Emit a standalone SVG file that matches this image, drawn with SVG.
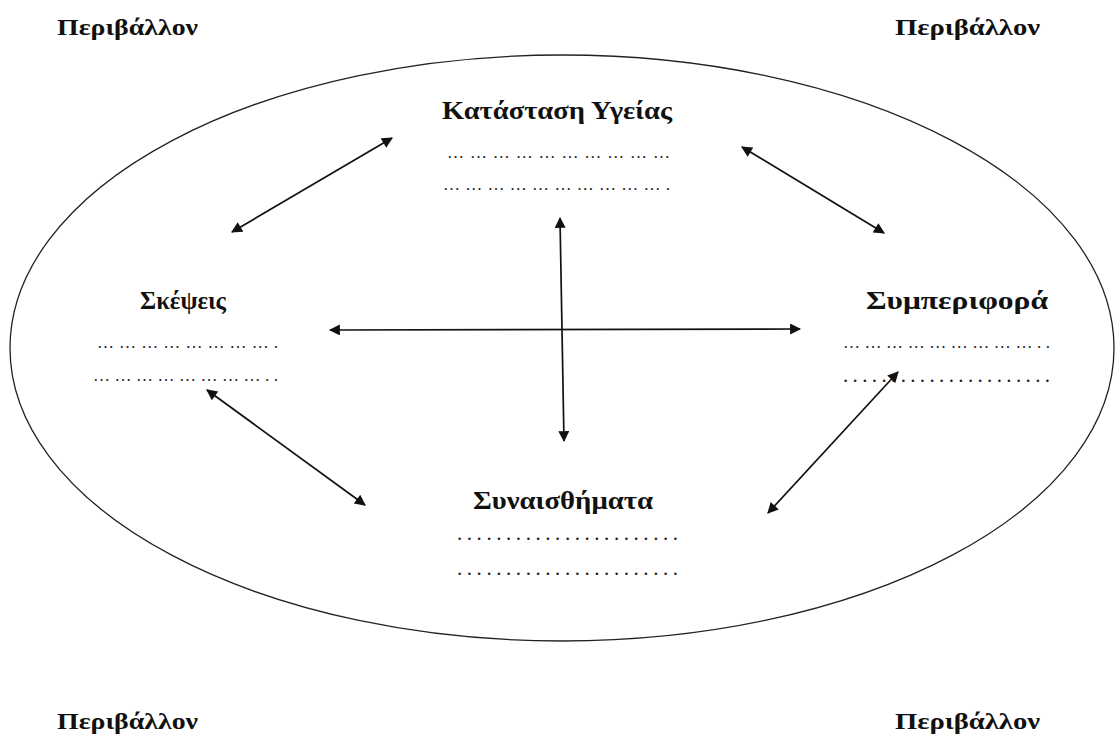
<svg xmlns="http://www.w3.org/2000/svg" width="1118" height="747" viewBox="0 0 1118 747">
  <style>
    .lbl { font-family: "Liberation Serif", "Times New Roman", serif; font-weight: bold; font-size: 26px; fill: #111; }
    .env { font-family: "Liberation Serif", "Times New Roman", serif; font-weight: bold; font-size: 24px; fill: #111; }
    .dots { font-family: "Liberation Serif", "Times New Roman", serif; font-size: 21px; fill: #222; }
    .ell { font-family: "Liberation Serif", "Times New Roman", serif; font-size: 17px; fill: #222; }
    .conn { stroke: #111; stroke-width: 1.7; fill: none; marker-start: url(#head); marker-end: url(#head); }
  </style>
  <defs>
    <marker id="head" viewBox="0 0 10 10" refX="9" refY="5" markerWidth="13" markerHeight="11" orient="auto-start-reverse" markerUnits="userSpaceOnUse">
      <path d="M0,0 L10,5 L0,10 Z" fill="#111"/>
    </marker>
  </defs>
  <rect width="1118" height="747" fill="#fff"/>

  <!-- environment labels in the four corners -->
  <g id="env-tl"><text class="env" x="57" y="35" textLength="141" lengthAdjust="spacingAndGlyphs">Περιβάλλον</text></g>
  <g id="env-tr"><text class="env" x="895" y="35" textLength="145" lengthAdjust="spacingAndGlyphs">Περιβάλλον</text></g>
  <g id="env-bl"><text class="env" x="57" y="729" textLength="141" lengthAdjust="spacingAndGlyphs">Περιβάλλον</text></g>
  <g id="env-br"><text class="env" x="895" y="729" textLength="145" lengthAdjust="spacingAndGlyphs">Περιβάλλον</text></g>

  <!-- person boundary -->
  <g id="boundary">
    <ellipse cx="562" cy="348" rx="552" ry="293" fill="none" stroke="#222" stroke-width="1.3"/>
  </g>

  <g id="node-health">
    <text class="lbl" x="442" y="119" textLength="230" lengthAdjust="spacingAndGlyphs">Κατάσταση Υγείας</text>
    <text class="ell" x="447" y="158" textLength="223" lengthAdjust="spacing">&#8230;&#8230;&#8230;&#8230;&#8230;&#8230;&#8230;&#8230;&#8230;&#8230;</text>
    <text class="ell" x="443" y="190" textLength="227" lengthAdjust="spacing">&#8230;&#8230;&#8230;&#8230;&#8230;&#8230;&#8230;&#8230;&#8230;&#8230;.</text>
  </g>

  <g id="node-thoughts">
    <text class="lbl" x="140" y="309" textLength="86" lengthAdjust="spacingAndGlyphs">Σκέψεις</text>
    <text class="ell" x="97" y="348" textLength="181" lengthAdjust="spacing">&#8230;&#8230;&#8230;&#8230;&#8230;&#8230;&#8230;&#8230;.</text>
    <text class="ell" x="93" y="381" textLength="185" lengthAdjust="spacing">&#8230;&#8230;&#8230;&#8230;&#8230;&#8230;&#8230;&#8230;..</text>
  </g>

  <g id="node-behaviour">
    <text class="lbl" x="866" y="309" textLength="182" lengthAdjust="spacingAndGlyphs">Συμπεριφορά</text>
    <text class="ell" x="843" y="348" textLength="207" lengthAdjust="spacing">&#8230;&#8230;&#8230;&#8230;&#8230;&#8230;&#8230;&#8230;&#8230;..</text>
    <text class="dots" x="843" y="382" textLength="207" lengthAdjust="spacing">......................</text>
  </g>

  <g id="node-emotions">
    <text class="lbl" x="473" y="509" textLength="180" lengthAdjust="spacingAndGlyphs">Συναισθήματα</text>
    <text class="dots" x="457" y="540" textLength="221" lengthAdjust="spacing">.......................</text>
    <text class="dots" x="457" y="575" textLength="221" lengthAdjust="spacing">.......................</text>
  </g>

  <g id="connectors">
    <line class="conn" x1="232" y1="232" x2="392" y2="138"/>
    <line class="conn" x1="742" y1="147" x2="884" y2="233"/>
    <line class="conn" x1="330" y1="330" x2="800" y2="329"/>
    <line class="conn" x1="560" y1="218" x2="564" y2="441"/>
    <line class="conn" x1="207" y1="390" x2="365" y2="505"/>
    <line class="conn" x1="898" y1="372" x2="768" y2="513"/>
  </g>
</svg>
